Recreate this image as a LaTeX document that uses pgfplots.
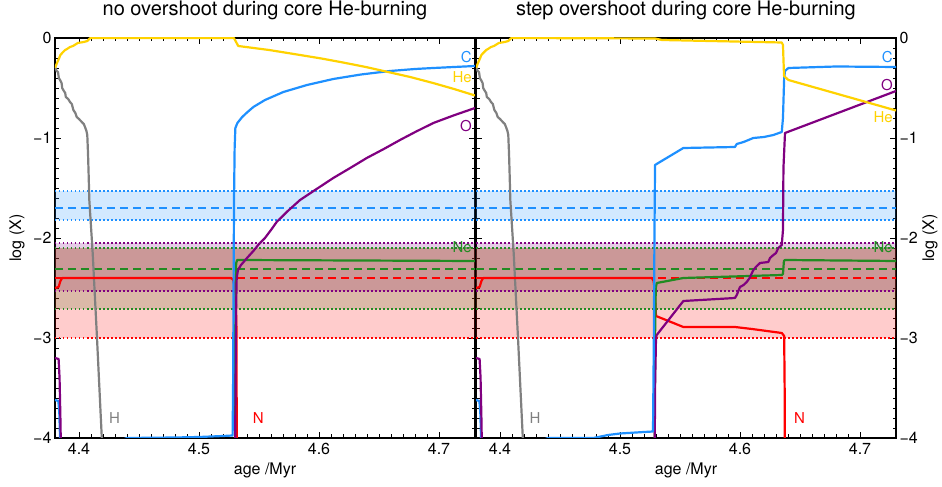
\documentclass[border=0pt]{standalone}
\usepackage{pgfplots}
\pgfplotsset{compat=1.18}
\usepackage{fontspec}
\setmainfont{TeX Gyre Heros}
\definecolor{cblue}{RGB}{30,144,255}
\definecolor{cgold}{RGB}{255,210,0}
\definecolor{cred}{RGB}{255,0,0}
\definecolor{cpurple}{RGB}{128,0,128}
\definecolor{cgreen}{RGB}{34,139,34}
\definecolor{cgray}{RGB}{128,128,128}
\tikzset{lbl/.style={font=\fontsize{15}{15}\selectfont, inner sep=0pt}}
\pgfplotsset{
 panel/.style={
  width=420pt, height=400pt, scale only axis,
  xmin=4.38, xmax=4.73, ymin=-4, ymax=0,
  xtick={4.4,4.5,4.6,4.7}, xticklabels={4.4,4.5,4.6,4.7},
  ytick={-4,-3,-2,-1,0}, yticklabels={−4,−3,−2,−1,0},
  minor x tick num=9, minor y tick num=9,
  tick align=inside,
  major tick length=6pt, minor tick length=3.5pt,
  every tick/.style={black, line width=0.9pt},
  axis line style={line width=1.3pt},
  tick label style={font=\fontsize{16}{16}\selectfont},
  label style={font=\fontsize{16}{16}\selectfont},
  title style={font=\fontsize{20}{20}\selectfont, at={(axis description cs:0.5,1)}, anchor=base, yshift=16.5pt},
  xlabel={age /Myr},
  xlabel style={at={(axis description cs:0.5,0)}, anchor=base, yshift=-37pt},
  xticklabel style={anchor=base, yshift=-17pt},
  ylabel={log (X)},
 },
 curve/.style={line width=2.2pt, line join=round, mark=none},
 dotl/.style={line width=1.5pt, dash pattern=on 1.5pt off 2.5pt, mark=none},
 dashl/.style={line width=1.5pt, dash pattern=on 8pt off 5pt, mark=none},
}
\newcommand{\bands}{%
 \addplot[draw=none, fill=cblue, fill opacity=0.2] coordinates {(4.38,-1.53) (4.73,-1.53) (4.73,-1.82) (4.38,-1.82)} -- cycle;
 \addplot[draw=none, fill=cpurple, fill opacity=0.2] coordinates {(4.38,-2.05) (4.73,-2.05) (4.73,-2.53) (4.38,-2.53)} -- cycle;
 \addplot[draw=none, fill=cgreen, fill opacity=0.2] coordinates {(4.38,-2.10) (4.73,-2.10) (4.73,-2.71) (4.38,-2.71)} -- cycle;
 \addplot[draw=none, fill=cred, fill opacity=0.2] coordinates {(4.38,-2.10) (4.73,-2.10) (4.73,-3.00) (4.38,-3.00)} -- cycle;
 \addplot[dotl, cblue] coordinates {(4.38,-1.53) (4.73,-1.53)};
 \addplot[dotl, cblue] coordinates {(4.38,-1.82) (4.73,-1.82)};
 \addplot[dashl, cblue] coordinates {(4.38,-1.70) (4.73,-1.70)};
 \addplot[dotl, cred] coordinates {(4.38,-2.10) (4.73,-2.10)};
 \addplot[dotl, cred] coordinates {(4.38,-3.00) (4.73,-3.00)};
 \addplot[dashl, cred] coordinates {(4.38,-2.40) (4.73,-2.40)};
 \addplot[dotl, cpurple] coordinates {(4.38,-2.05) (4.73,-2.05)};
 \addplot[dotl, cpurple] coordinates {(4.38,-2.53) (4.73,-2.53)};
 \addplot[dashl, cpurple] coordinates {(4.38,-2.31) (4.73,-2.31)};
 \addplot[dotl, cgreen] coordinates {(4.38,-2.10) (4.73,-2.10)};
 \addplot[dotl, cgreen] coordinates {(4.38,-2.71) (4.73,-2.71)};
 \addplot[dashl, cgreen] coordinates {(4.38,-2.31) (4.73,-2.31)};
}
\newcommand{\early}{%
 \addplot[curve, cgray] coordinates {(4.3800,-0.29) (4.3814,-0.33) (4.3825,-0.34) (4.3832,-0.40) (4.3842,-0.42) (4.3855,-0.45) (4.3860,-0.50) (4.3869,-0.52) (4.3885,-0.55) (4.3890,-0.59) (4.3910,-0.61) (4.3925,-0.64) (4.3940,-0.66) (4.3953,-0.72) (4.3970,-0.75) (4.3981,-0.79) (4.4000,-0.81) (4.4023,-0.84) (4.4040,-0.86) (4.4050,-0.89) (4.4062,-0.93) (4.4069,-0.97) (4.4075,-1.15) (4.4080,-1.35) (4.4086,-1.62) (4.4114,-2.15) (4.4150,-3.00) (4.4190,-4.00) (4.4200,-4.3)};
 \addplot[curve, cblue] coordinates {(4.3800,-3.62) (4.3828,-3.63) (4.3836,-3.75) (4.3842,-4.0) (4.3850,-4.5)};
 \addplot[curve, cpurple] coordinates {(4.3800,-3.20) (4.3830,-3.21) (4.3838,-3.40) (4.3845,-3.80) (4.3855,-4.5)};
}
\begin{document}
\begin{tikzpicture}
\path[use as bounding box] (0,0) rectangle (942pt,487pt);
% ---------------- left panel ----------------
\begin{axis}[panel, at={(55pt,49pt)}, anchor=south west,
  title={no overshoot during core He-burning},
  ylabel style={at={(axis description cs:0,0.5)}, anchor=center, yshift=38pt}]
\bands
\early
\addplot[curve, cred] coordinates {(4.3800,-2.50) (4.3830,-2.49) (4.3845,-2.43) (4.3860,-2.40) (4.5260,-2.40) (4.5282,-2.41) (4.5296,-2.48) (4.5306,-2.58) (4.5312,-2.9) (4.5316,-4.5)};
\addplot[curve, cgreen] coordinates {(4.5298,-4.5) (4.5302,-3.0) (4.5306,-2.40) (4.5310,-2.25) (4.5318,-2.22) (4.7300,-2.23)};
\addplot[curve, cpurple] coordinates {(4.5300,-4.5) (4.5304,-3.5) (4.5308,-2.8) (4.5314,-2.40) (4.5325,-2.32) (4.5350,-2.27) (4.5400,-2.20) (4.5453,-2.13) (4.5500,-2.06) (4.5550,-2.00) (4.5600,-1.92) (4.5647,-1.84) (4.5740,-1.73) (4.5842,-1.62) (4.5980,-1.51) (4.6119,-1.40) (4.6260,-1.30) (4.6398,-1.20) (4.6540,-1.11) (4.6675,-1.02) (4.6810,-0.935) (4.6953,-0.85) (4.7120,-0.775) (4.7300,-0.70)};
\addplot[curve, cblue] coordinates {(4.4300,-4.05) (4.4400,-4.00) (4.4800,-3.995) (4.5000,-3.99) (4.5200,-3.98) (4.5280,-3.975) (4.5284,-3.5) (4.5288,-2.5) (4.5292,-1.6) (4.5297,-1.1) (4.5303,-0.90) (4.5320,-0.85) (4.5360,-0.79) (4.5400,-0.745) (4.5453,-0.69) (4.5550,-0.62) (4.5703,-0.54) (4.5900,-0.47) (4.6119,-0.41) (4.6350,-0.365) (4.6592,-0.33) (4.6800,-0.31) (4.6953,-0.30) (4.7300,-0.28)};
\addplot[curve, cgold] coordinates {(4.3800,-0.30) (4.3810,-0.27) (4.3820,-0.24) (4.3835,-0.20) (4.3845,-0.17) (4.3860,-0.15) (4.3885,-0.12) (4.3900,-0.11) (4.3925,-0.09) (4.3950,-0.08) (4.3990,-0.05) (4.4040,-0.04) (4.4070,-0.03) (4.4085,-0.01) (4.4095,0) (4.5290,0) (4.5300,-0.02) (4.5327,-0.08) (4.5584,-0.12) (4.5842,-0.17) (4.6020,-0.205) (4.6200,-0.245) (4.6390,-0.29) (4.6575,-0.34) (4.6760,-0.39) (4.6950,-0.45) (4.7125,-0.51) (4.7300,-0.575)};
\node[lbl, anchor=east, text=cblue] at (axis cs:4.7275,-0.19) {C};
\node[lbl, anchor=east, text=cgold] at (axis cs:4.7275,-0.395) {He};
\node[lbl, anchor=east, text=cpurple] at (axis cs:4.7275,-0.88) {O};
\node[lbl, anchor=east, text=cgreen] at (axis cs:4.7275,-2.09) {Ne};
\node[lbl, text=cgray] at (axis cs:4.4297,-3.80) {H};
\node[lbl, text=cred] at (axis cs:4.5494,-3.80) {N};
\end{axis}
% ---------------- right panel ----------------
\begin{axis}[panel, at={(476pt,49pt)}, anchor=south west,
  title={step overshoot during core He-burning},
  yticklabel pos=right,
  ylabel style={at={(axis description cs:1,0.5)}, anchor=center, yshift=-34pt}]
\bands
\early
\addplot[curve, cred] coordinates {(4.3800,-2.50) (4.3830,-2.49) (4.3845,-2.43) (4.3860,-2.40) (4.5265,-2.40) (4.5280,-2.43) (4.5290,-2.52) (4.5300,-2.78) (4.5528,-2.89) (4.5958,-2.89) (4.6100,-2.91) (4.6348,-2.95) (4.6368,-2.98) (4.6372,-3.5) (4.6375,-4.5)};
\addplot[curve, cgreen] coordinates {(4.5288,-4.5) (4.5292,-3.0) (4.5298,-2.50) (4.5306,-2.45) (4.5528,-2.40) (4.6348,-2.37) (4.6358,-2.36) (4.6366,-2.23) (4.6375,-2.22) (4.7300,-2.23)};
\addplot[curve, cpurple] coordinates {(4.5288,-4.5) (4.5292,-3.5) (4.5300,-3.0) (4.5306,-2.97) (4.5528,-2.63) (4.5958,-2.60) (4.5973,-2.57) (4.6000,-2.49) (4.6030,-2.47) (4.6056,-2.44) (4.6080,-2.40) (4.6111,-2.32) (4.6140,-2.28) (4.6167,-2.25) (4.6236,-2.24) (4.6250,-2.20) (4.6278,-2.17) (4.6300,-2.15) (4.6319,-2.10) (4.6348,-2.07) (4.6358,-1.92) (4.6362,-1.30) (4.6375,-0.95) (4.7300,-0.53)};
\addplot[curve, cblue] coordinates {(4.4300,-4.05) (4.4400,-4.00) (4.4780,-4.00) (4.4900,-3.97) (4.5000,-3.955) (4.5200,-3.94) (4.5275,-3.935) (4.5282,-3.0) (4.5287,-2.0) (4.5292,-1.27) (4.5319,-1.25) (4.5528,-1.10) (4.5958,-1.09) (4.5973,-1.06) (4.6030,-1.04) (4.6111,-1.00) (4.6200,-0.99) (4.6278,-0.97) (4.6348,-0.94) (4.6358,-0.80) (4.6368,-0.40) (4.6375,-0.33) (4.6403,-0.30) (4.6800,-0.285) (4.7300,-0.29)};
\addplot[curve, cgold] coordinates {(4.3800,-0.30) (4.3810,-0.27) (4.3820,-0.24) (4.3835,-0.20) (4.3845,-0.17) (4.3860,-0.15) (4.3885,-0.12) (4.3900,-0.11) (4.3925,-0.09) (4.3950,-0.08) (4.3990,-0.05) (4.4040,-0.04) (4.4070,-0.03) (4.4085,-0.01) (4.4095,0) (4.5292,-0.005) (4.5350,-0.02) (4.6348,-0.045) (4.6358,-0.07) (4.6367,-0.38) (4.6403,-0.42) (4.7300,-0.725)};
\node[lbl, anchor=east, text=cblue] at (axis cs:4.7275,-0.19) {C};
\node[lbl, anchor=east, text=cpurple] at (axis cs:4.7275,-0.47) {O};
\node[lbl, anchor=east, text=cgold] at (axis cs:4.7275,-0.795) {He};
\node[lbl, anchor=east, text=cgreen] at (axis cs:4.7275,-2.09) {Ne};
\node[lbl, text=cgray] at (axis cs:4.4292,-3.80) {H};
\node[lbl, text=cred] at (axis cs:4.6497,-3.80) {N};
\end{axis}
\end{tikzpicture}
\end{document}
